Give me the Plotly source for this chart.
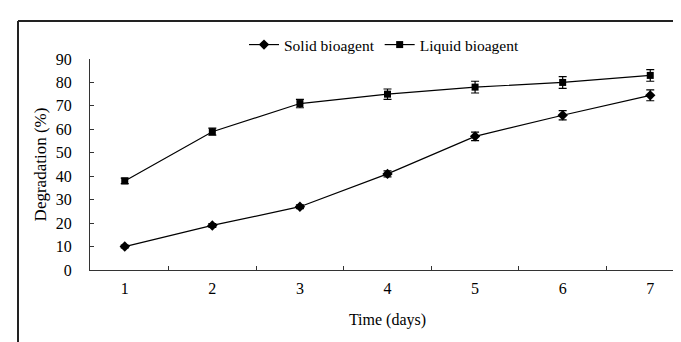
import plotly.graph_objects as go

days = ["1", "2", "3", "4", "5", "6", "7"]
solid = [10, 19, 27, 41, 57, 66, 74.5]
solid_err = [0.6, 0.8, 0.8, 1.3, 1.8, 2.0, 2.3]
liquid = [38, 59, 71, 75, 78, 80, 83]
liquid_err = [1.2, 1.5, 1.8, 2.2, 2.5, 2.5, 2.5]
yticks = [0, 10, 20, 30, 40, 50, 60, 70, 80, 90]

FONT = "Liberation Serif"

fig = go.Figure()
fig.add_trace(go.Scatter(
    x=days, y=solid, name="Solid bioagent", mode="lines+markers",
    line=dict(color="black", width=1.2),
    marker=dict(symbol="diamond", size=8, color="black"),
    error_y=dict(type="data", array=solid_err, color="black", thickness=1.2, width=4),
))
fig.add_trace(go.Scatter(
    x=days, y=liquid, name="Liquid bioagent", mode="lines+markers",
    line=dict(color="black", width=1.2),
    marker=dict(symbol="square", size=7, color="black"),
    error_y=dict(type="data", array=liquid_err, color="black", thickness=1.2, width=4),
))

L, R, T, B = 82, 4, 51, 80
W, H = 681, 342
pw, ph = W - L - R, H - T - B

def px_x(p):
    return (p - L) / pw

def px_y(p):
    return (H - B - p) / ph

fig.add_shape(type="line", xref="paper", yref="paper",
              x0=px_x(10), x1=px_x(681), y0=px_y(13), y1=px_y(13),
              line=dict(color="#222", width=2))
fig.add_shape(type="line", xref="paper", yref="paper",
              x0=px_x(10), x1=px_x(10), y0=px_y(13), y1=px_y(342),
              line=dict(color="#222", width=2))

fig.update_layout(
    width=W, height=H,
    margin=dict(l=L, r=R, t=T, b=B),
    paper_bgcolor="white", plot_bgcolor="white",
    font=dict(family=FONT, size=16, color="black"),
    showlegend=True,
    legend=dict(orientation="h", x=px_x(376), xanchor="center",
                y=px_y(37), yanchor="middle", itemwidth=30,
                font=dict(family=FONT, size=15.5), bgcolor="rgba(0,0,0,0)",
                tracegroupgap=0),
    xaxis=dict(type="category", categoryorder="array", categoryarray=days,
               tickson="boundaries", ticks="inside", ticklen=4, tickcolor="#333",
               showline=True, linecolor="#333", linewidth=1.2, showgrid=False,
               zeroline=False, ticklabelstandoff=4,
               tickfont=dict(size=16),
               title=dict(text="Time (days)", font=dict(size=16), standoff=17)),
    yaxis=dict(range=[0, 90], tickvals=yticks, ticks="inside", ticklen=4,
               tickcolor="#333", showline=True, linecolor="#333", linewidth=1.2,
               showgrid=False, zeroline=False, ticklabelstandoff=14,
               tickfont=dict(size=16),
               title=dict(text="Degradation (%)", font=dict(size=17), standoff=4)),
)

fig.write_html("out.html")
